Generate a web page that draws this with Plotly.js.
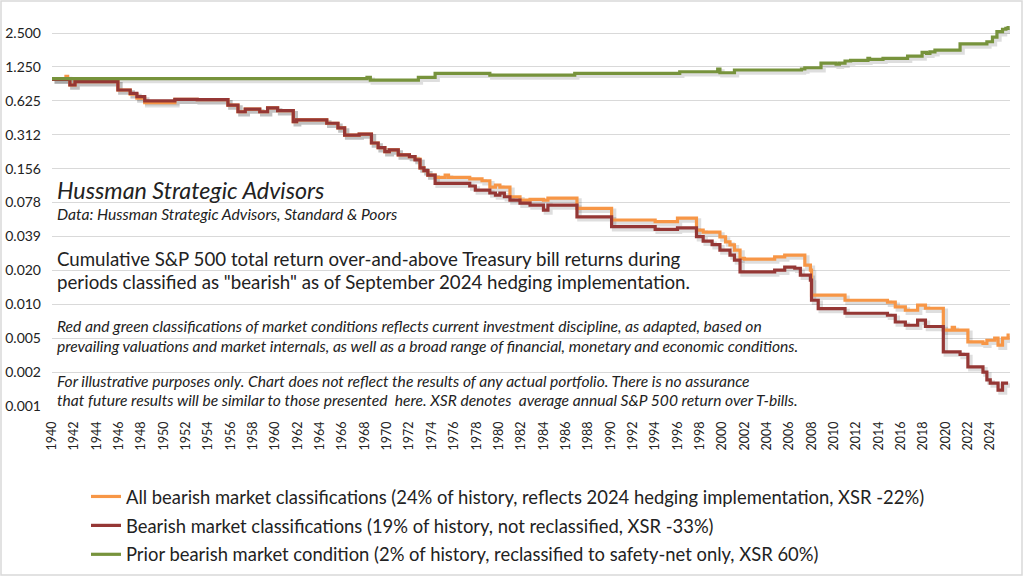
<!DOCTYPE html>
<html>
<head>
<meta charset="utf-8">
<script src="https://cdn.plot.ly/plotly-3.0.1.min.js"></script>
<style>
  html, body { margin: 0; padding: 0; background: #fff; }
  #plt { width: 1025px; height: 577px; }
</style>
</head>
<body>
<div id="plt"></div>
<script>
// values (year, growth of $1)
var orangeYears = [1940.0, 1941.25, 1941.4, 1941.6, 1942.06, 1945.9, 1947.0, 1947.6, 1948.3, 1951.0, 1953.0, 1955.75, 1956.65, 1957.3, 1958.6, 1959.3, 1960.2, 1961.6, 1961.9, 1964.6, 1965.6, 1966.2, 1967.5, 1968.6, 1969.2, 1969.8, 1970.2, 1971.0, 1972.0, 1972.5, 1972.95, 1973.3, 1973.65, 1974.3, 1975.2, 1975.5, 1977.4, 1978.5, 1979.2, 1979.7, 1980.1, 1981.0, 1981.9, 1982.8, 1984.0, 1984.4, 1987.0, 1990.1, 1994.0, 1996.0, 1997.7, 1998.3, 1999.1, 1999.8, 2000.3, 2000.7, 2001.1, 2001.6, 2002.0, 2004.7, 2005.6, 2007.0, 2007.4, 2007.9, 2008.0, 2011.0, 2014.8, 2015.5, 2016.4, 2017.5, 2018.2, 2019.8, 2020.6, 2020.8, 2022.0, 2023.35, 2023.7, 2024.4, 2024.7, 2025.1, 2025.6];
var orangeVals = [0.97, 1.03, 0.97, 0.864, 0.924, 0.78, 0.715, 0.66, 0.601, 0.645, 0.64, 0.573, 0.50, 0.528, 0.50, 0.54, 0.511, 0.408, 0.4226, 0.395, 0.359, 0.31, 0.317, 0.264, 0.24, 0.221, 0.229, 0.207, 0.20, 0.19, 0.1585, 0.15, 0.137, 0.1307, 0.137, 0.1307, 0.127, 0.122, 0.107, 0.1118, 0.107, 0.088, 0.0821, 0.0833, 0.0821, 0.0856, 0.0694, 0.0547, 0.0528, 0.0569, 0.0445, 0.0427, 0.0427, 0.0387, 0.0349, 0.0329, 0.0296, 0.025, 0.0246, 0.0257, 0.0267, 0.0267, 0.0217, 0.0196, 0.01175, 0.0106, 0.0102, 0.00925, 0.00864, 0.00958, 0.009, 0.00575, 0.0061, 0.00575, 0.00452, 0.0044, 0.00468, 0.00488, 0.00423, 0.00488, 0.00538];

var redYears = [1940.0, 1941.6, 1942.06, 1945.9, 1947.0, 1947.6, 1948.3, 1951.0, 1953.0, 1955.75, 1956.65, 1957.3, 1958.6, 1959.3, 1960.2, 1961.6, 1961.9, 1964.6, 1965.6, 1966.2, 1967.5, 1968.6, 1969.2, 1969.8, 1970.2, 1971.0, 1972.0, 1972.5, 1972.95, 1973.3, 1973.65, 1974.3, 1977.4, 1977.9, 1979.2, 1979.7, 1980.1, 1980.5, 1981.0, 1981.9, 1982.8, 1984.0, 1984.4, 1987.0, 1990.1, 1994.0, 1996.0, 1997.7, 1998.3, 1999.1, 1999.8, 2000.7, 2001.1, 2001.6, 2004.7, 2005.6, 2006.5, 2007.0, 2007.9, 2008.0, 2008.6, 2011.0, 2014.8, 2015.5, 2016.4, 2017.5, 2018.2, 2019.8, 2021.3, 2022.0, 2023.35, 2023.7, 2024.0, 2024.7, 2025.1, 2025.6];
var redVals = [0.97, 0.864, 0.924, 0.78, 0.728, 0.68, 0.625, 0.645, 0.64, 0.573, 0.50, 0.528, 0.50, 0.54, 0.511, 0.408, 0.4226, 0.395, 0.359, 0.31, 0.317, 0.264, 0.24, 0.221, 0.229, 0.207, 0.20, 0.187, 0.1585, 0.15, 0.137, 0.1158, 0.1096, 0.1008, 0.095, 0.091, 0.0949, 0.088, 0.0821, 0.0772, 0.0742, 0.067, 0.0742, 0.0584, 0.0477, 0.0452, 0.0465, 0.0389, 0.0355, 0.033, 0.0296, 0.0267, 0.0241, 0.0189, 0.0196, 0.0209, 0.0204, 0.0177, 0.016, 0.0106, 0.00894, 0.00813, 0.0078, 0.0068, 0.00636, 0.00705, 0.0062, 0.00369, 0.0035, 0.00272, 0.00244, 0.00208, 0.00195, 0.00169, 0.00195, 0.00195];

var greenYears = [1940.0, 1968.2, 1968.5, 1972.8, 1974.3, 1979.2, 1986.8, 1996.2, 1999.6, 1999.8, 2001.1, 2007.1, 2007.4, 2008.85, 2010.2, 2010.5, 2011.0, 2011.5, 2013.05, 2013.2, 2014.4, 2016.6, 2017.9, 2018.3, 2018.6, 2019.05, 2021.3, 2023.7, 2024.2, 2024.6, 2025.1, 2025.4, 2025.6];
var greenVals = [0.985, 1.01, 0.955, 1.01, 1.096, 1.059, 1.096, 1.132, 1.198, 1.109, 1.174, 1.198, 1.229, 1.35, 1.32, 1.35, 1.41, 1.43, 1.49, 1.46, 1.49, 1.56, 1.685, 1.65, 1.70, 1.765, 2.0, 2.09, 2.3, 2.57, 2.70, 2.75, 2.885];

var seriesNames = [
    'All bearish market classifications (24% of history, reflects 2024 hedging implementation, XSR -22%)',
    'Bearish market classifications (19% of history, not reclassified, XSR -33%)',
    'Prior bearish market condition (2% of history, reclassified to safety-net only, XSR 60%)'
];
var seriesColors = ['#F79646', '#953735', '#77933C'];

var yTickVals = [2.5, 1.25, 0.625, 0.3125, 0.15625, 0.078125, 0.0390625, 0.01953125, 0.009765625, 0.0048828125, 0.00244140625, 0.001220703125];
var yTickText = ['2.500', '1.250', '0.625', '0.312', '0.156', '0.078', '0.039', '0.020', '0.010', '0.005', '0.002', '0.001'];

var xTickVals = [];
for (let yr = 1940; yr <= 2024; yr += 2) xTickVals.push(yr);

// plot box in pixels
var plotW = 958, plotH = 391;
var xr = [1940, 2025.77];
var yLo = Math.log10(0.001220703125);
var yHi = Math.log10(2.5) + (18 / 33.9) * Math.log10(2);

// shadow offset (px) -> axis units
var sx = 2.5 * (xr[1] - xr[0]) / plotW;
var sy = 2.5 * (yHi - yLo) / plotH;

function py(px) { return (406 - px) / plotH; }
function pxX(px) { return (px - 52) / plotW; }

function plot(){
    let gd = document.getElementById('plt');
    let xs = [orangeYears, redYears, greenYears];
    let ys = [orangeVals, redVals, greenVals];

    let d = [];
    // soft shadows on the hidden, shifted axes
    for (let i = 0; i < 3; i++) {
        d.push({
            type: 'scatter', mode: 'lines', x: xs[i], y: ys[i],
            xaxis: 'x', yaxis: 'y', showlegend: false, hoverinfo: 'skip',
            line: {color: 'rgba(0,0,0,0.13)', width: 4.5, shape: 'hv'}
        });
    }
    for (let i = 0; i < 3; i++) {
        d.push({
            type: 'scatter', mode: 'lines', x: xs[i], y: ys[i],
            xaxis: 'x2', yaxis: 'y2', name: seriesNames[i],
            legendgroup: 'g' + i,
            line: {color: seriesColors[i], width: 3.2, shape: 'hv'}
        });
    }

    let txt = '#222';
    let notes = [
        {t: '<i>Hussman Strategic Advisors</i>', y: 190, s: 23.3},
        {t: '<i>Data: Hussman Strategic Advisors, Standard &amp; Poors</i>', y: 214, s: 15.7},
        {t: 'Cumulative S&amp;P 500 total return over-and-above Treasury bill returns during', y: 259, s: 18.7},
        {t: 'periods classified as "bearish" as of September 2024 hedging implementation.', y: 282, s: 18.7},
        {t: '<i>Red and green classifications of market conditions reflects current investment discipline, as adapted, based on</i>', y: 326, s: 15.6},
        {t: '<i>prevailing valuations and market internals, as well as a broad range of financial, monetary and economic conditions.</i>', y: 346, s: 15.6},
        {t: '<i>For illustrative purposes only. Chart does not reflect the results of any actual portfolio. There is no assurance</i>', y: 381, s: 15.6},
        {t: '<i>that future results will be similar to those presented  here. XSR denotes  average annual S&amp;P 500 return over T-bills.</i>', y: 400, s: 15.6}
    ];
    let ann = notes.map(n => ({
        xref: 'paper', yref: 'paper', x: pxX(55), y: py(n.y),
        xanchor: 'left', yanchor: 'middle', showarrow: false,
        text: n.t, font: {family: 'Lato', size: n.s, color: txt}
    }));

    let l = {
        width: 1025, height: 577,
        margin: {l: 52, r: 15, t: 15, b: 171, autoexpand: false},
        paper_bgcolor: '#fff', plot_bgcolor: '#fff',
        font: {family: 'Lato', color: txt},
        showlegend: true,
        legend: {
            x: pxX(86), y: py(478), xanchor: 'left', yanchor: 'top',
            bgcolor: 'rgba(0,0,0,0)', borderwidth: 0,
            font: {family: 'Lato', size: 18.4, color: txt},
            itemwidth: 30, traceorder: 'grouped', tracegroupgap: 2
        },
        xaxis: {range: [xr[0] - sx, xr[1] - sx], visible: false, fixedrange: true},
        yaxis: {type: 'log', range: [yLo + sy, yHi + sy], visible: false, fixedrange: true},
        xaxis2: {
            overlaying: 'x', anchor: 'y2', side: 'bottom', range: xr,
            tickvals: xTickVals, ticktext: xTickVals.map(String), tickangle: -90,
            tickfont: {family: 'Lato', size: 12.5, color: txt},
            showgrid: false, zeroline: false, showline: false, ticks: '',
            ticklabelstandoff: 12, automargin: false
        },
        yaxis2: {
            overlaying: 'y', anchor: 'x2', side: 'left', type: 'log',
            range: [yLo, yHi],
            tickvals: yTickVals, ticktext: yTickText,
            tickfont: {family: 'Lato', size: 14, color: txt},
            showgrid: true, gridcolor: '#d9d9d9', gridwidth: 1,
            zeroline: false, showline: false, ticks: '',
            ticklabelstandoff: 10, automargin: false
        },
        annotations: ann,
        shapes: [{
            type: 'rect', xref: 'paper', yref: 'paper',
            x0: pxX(1), x1: pxX(1022), y0: py(575), y1: py(1),
            line: {color: '#d9d9d9', width: 1.5}
        }]
    };
    let c = {displayModeBar: false, staticPlot: true};

    Plotly.newPlot(gd, d, l, c);
}

plot();
</script>
</body>
</html>
